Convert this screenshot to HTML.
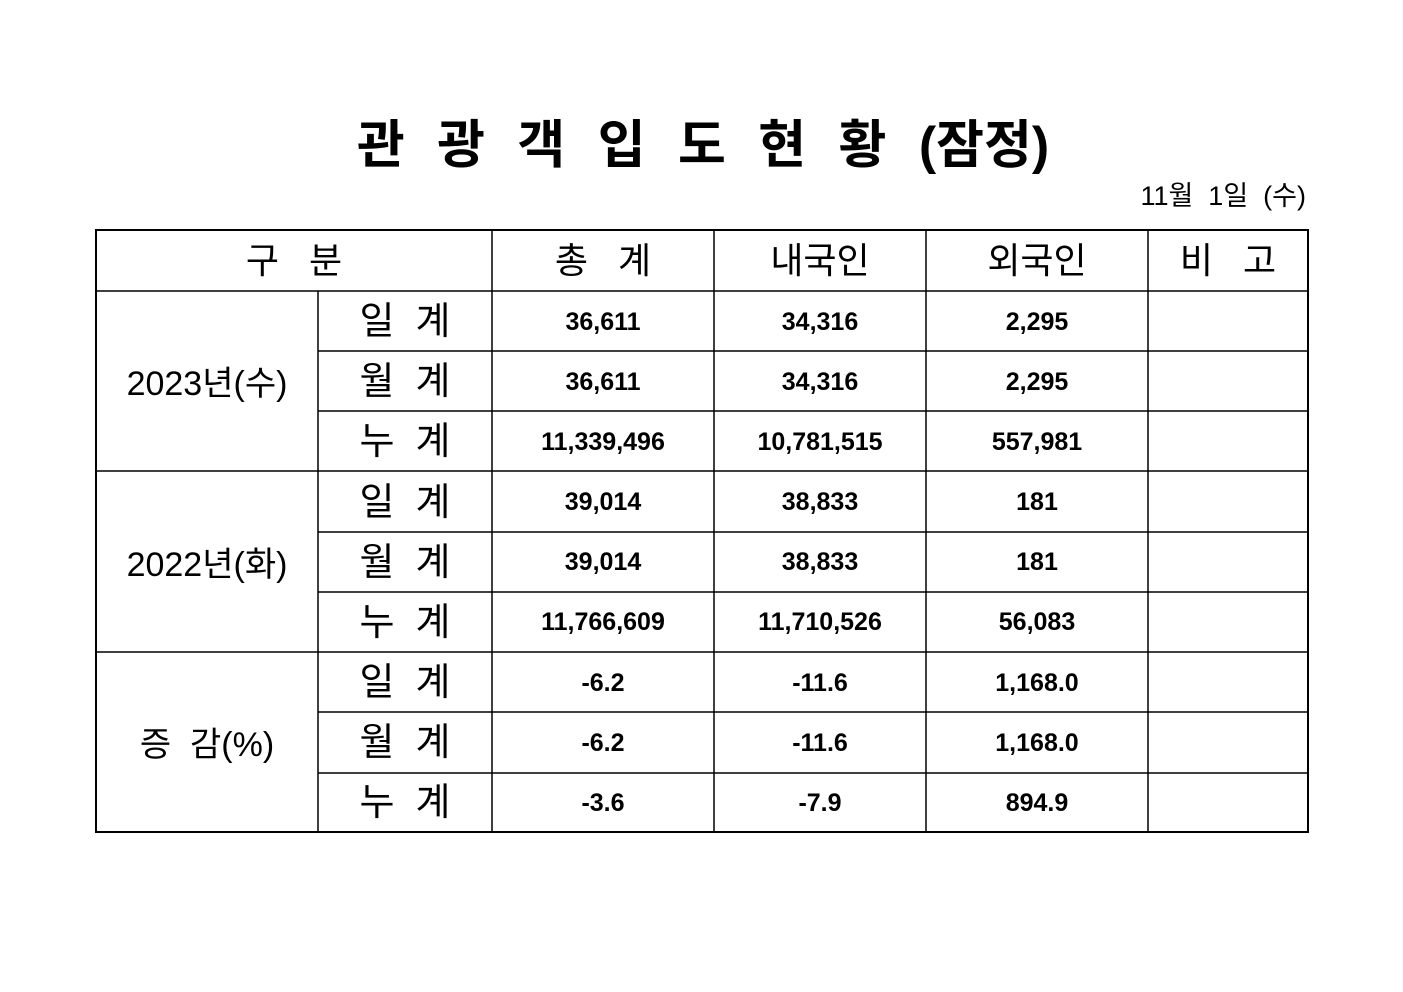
<!DOCTYPE html>
<html><head><meta charset="utf-8"><style>
html,body{margin:0;padding:0;background:#fff;}
svg{display:block;}
text{font-family:"Liberation Sans","Noto Sans CJK KR","NanumGothic",sans-serif;fill:#000;}
.h{font-size:36px;}
.l{font-size:38px;}
.g{font-size:34px;}
.n{font-size:25px;font-weight:bold;}
</style></head><body>
<svg width="1403" height="992" viewBox="0 0 1403 992" xmlns="http://www.w3.org/2000/svg">
<rect width="1403" height="992" fill="#fff"/>
<text x="703" y="163" text-anchor="middle" style="font-size:52px;font-weight:bold"><tspan style="letter-spacing:9px">관 광 객 입 도 현 황 </tspan><tspan style="letter-spacing:0">(잠정)</tspan></text>
<text x="1306" y="205" text-anchor="end" style="font-size:27px" xml:space="preserve">11월  1일  (수)</text>
<g stroke="#000" stroke-width="1.5" fill="none">
<rect x="96" y="230" width="1212" height="602" stroke-width="2"/>
<line x1="318" y1="291" x2="318" y2="832"/>
<line x1="492" y1="230" x2="492" y2="832"/>
<line x1="714" y1="230" x2="714" y2="832"/>
<line x1="926" y1="230" x2="926" y2="832"/>
<line x1="1148" y1="230" x2="1148" y2="832"/>
<line x1="96" y1="291" x2="1308" y2="291"/>
<line x1="318" y1="351" x2="1308" y2="351"/>
<line x1="318" y1="411" x2="1308" y2="411"/>
<line x1="96" y1="471" x2="1308" y2="471"/>
<line x1="318" y1="532" x2="1308" y2="532"/>
<line x1="318" y1="592" x2="1308" y2="592"/>
<line x1="96" y1="652" x2="1308" y2="652"/>
<line x1="318" y1="712" x2="1308" y2="712"/>
<line x1="318" y1="773" x2="1308" y2="773"/>
</g>
<g text-anchor="middle">
<text x="294" y="273" class="h">구&#160;&#160;&#160;분</text>
<text x="603" y="273" class="h">총&#160;&#160;&#160;계</text>
<text x="820" y="273" class="h">내국인</text>
<text x="1037" y="273" class="h">외국인</text>
<text x="1228" y="273" class="h">비&#160;&#160;&#160;고</text>
</g>
<g text-anchor="middle">
<text x="207" y="395" class="g">2023년(수)</text>
<text x="207" y="576" class="g">2022년(화)</text>
<text x="207" y="756" class="g">증&#160;&#160;감(%)</text>
</g>
<g text-anchor="middle">
<text x="405" y="334" class="l">일&#160;&#160;계</text>
<text x="405" y="394" class="l">월&#160;&#160;계</text>
<text x="405" y="454" class="l">누&#160;&#160;계</text>
<text x="405" y="515" class="l">일&#160;&#160;계</text>
<text x="405" y="575" class="l">월&#160;&#160;계</text>
<text x="405" y="635" class="l">누&#160;&#160;계</text>
<text x="405" y="695" class="l">일&#160;&#160;계</text>
<text x="405" y="755" class="l">월&#160;&#160;계</text>
<text x="405" y="815" class="l">누&#160;&#160;계</text>
</g>
<g text-anchor="middle">
<text x="603" y="330" class="n">36,611</text><text x="820" y="330" class="n">34,316</text><text x="1037" y="330" class="n">2,295</text>
<text x="603" y="390" class="n">36,611</text><text x="820" y="390" class="n">34,316</text><text x="1037" y="390" class="n">2,295</text>
<text x="603" y="450" class="n">11,339,496</text><text x="820" y="450" class="n">10,781,515</text><text x="1037" y="450" class="n">557,981</text>
<text x="603" y="510" class="n">39,014</text><text x="820" y="510" class="n">38,833</text><text x="1037" y="510" class="n">181</text>
<text x="603" y="570" class="n">39,014</text><text x="820" y="570" class="n">38,833</text><text x="1037" y="570" class="n">181</text>
<text x="603" y="630" class="n">11,766,609</text><text x="820" y="630" class="n">11,710,526</text><text x="1037" y="630" class="n">56,083</text>
<text x="603" y="691" class="n">-6.2</text><text x="820" y="691" class="n">-11.6</text><text x="1037" y="691" class="n">1,168.0</text>
<text x="603" y="751" class="n">-6.2</text><text x="820" y="751" class="n">-11.6</text><text x="1037" y="751" class="n">1,168.0</text>
<text x="603" y="811" class="n">-3.6</text><text x="820" y="811" class="n">-7.9</text><text x="1037" y="811" class="n">894.9</text>
</g>
</svg>
</body></html>
